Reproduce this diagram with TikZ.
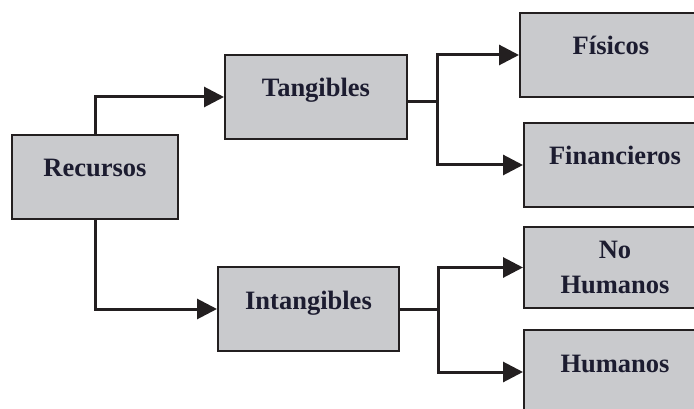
\documentclass[tikz,border=0pt]{standalone}
\usepackage{fontspec}
\setmainfont{Liberation Serif}
\usetikzlibrary{arrows.meta}
\usetikzlibrary{positioning}
\definecolor{boxgray}{RGB}{201,202,205}
\definecolor{ink}{RGB}{35,31,32}
\definecolor{textblue}{RGB}{28,28,48}

\begin{document}
\begin{tikzpicture}[
            x = 1pt, y = -1pt, % pixel units
            > = {Triangle[length=20pt,width=20pt]}, % arrow head style
            line width = 3pt, % connector style
            font = \fontsize{26.5}{35}\selectfont\bfseries
        ]

        \tikzstyle{box}=[
            draw = ink,
            line width = 2pt,
            fill = boxgray,
            text = textblue,
            inner sep = 0pt,
            minimum width = 182pt,
            minimum height = 84pt
        ]
        \tikzstyle{oneline}=[box, text height = 42pt, text depth = 42pt]
        \tikzstyle{link}=[draw = ink, ->]

        \useasboundingbox (0,0) rectangle (694,409);
        \clip (0,0) rectangle (694,409);

        % root
        \node[oneline, minimum width = 166pt] (R) at (95,177) {Recursos};

        % first level
        \node[oneline] (T) at (316,97) {Tangibles};
        \node[oneline, minimum width = 181pt] (I) at (308.5,309) {Intangibles};

        \path[link] (R.north) |- (T.west);
        \path[link] (R.south) |- (I.west);

        % second level
        \node[oneline] (F) at (611,55) {Físicos};
        \node[oneline] (Fi) at (615,165) {Financieros};
        \node[box, minimum height = 81pt, align = center] (NH) at (615,267.5) {No\\Humanos};
        \node[oneline] (H) at (615,372) {Humanos};

        \draw[ink] ([yshift=-5pt]T.east) -- ++(29,0) coordinate (tj);
        \draw[link, <->] (F.west) -| (tj) |- (Fi.west);

        \draw[ink] (I.east) -- ++(38,0) coordinate (ij);
        \draw[link, <->] (NH.west) -| (ij) |- (H.west);

  \end{tikzpicture}
\end{document}
